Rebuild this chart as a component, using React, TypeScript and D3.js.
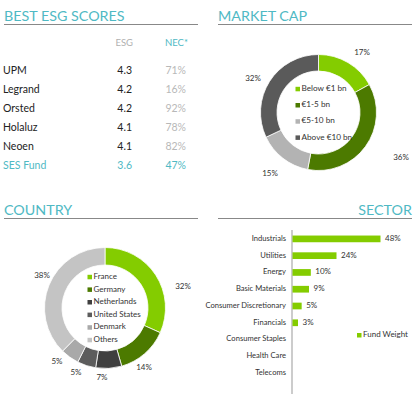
import React from "react";
import * as d3 from "d3";

const TEAL = "#4fb9c4";
const LGREEN = "#84cc00";
const DGREEN = "#4c7a00";
const FONT = "Lato, 'Open Sans', sans-serif";

const esgNames = ["UPM", "Legrand", "Orsted", "Holaluz", "Neoen", "SES Fund"];
const esgScores = ["4.3", "4.2", "4.2", "4.1", "4.1", "3.6"];
const necScores = ["71%", "16%", "92%", "78%", "82%", "47%"];

const capLabels = ["Below €1 bn", "€1-5 bn", "€5-10 bn", "Above €10 bn"];
const capValues = [17, 36, 15, 32];
const capColors = [LGREEN, DGREEN, "#b3b3b3", "#5a5a5a"];

const countryLabels = ["France", "Germany", "Netherlands", "United States", "Denmark", "Others"];
const countryValues = [32, 14, 7, 5, 5, 38];
const countryColors = [LGREEN, DGREEN, "#3f3f3f", "#5c5c5c", "#a9a9a9", "#c4c4c4"];

const sectorLabels = ["Industrials", "Utilities", "Energy", "Basic Materials", "Consumer Discretionary", "Financials", "Consumer Staples", "Health Care", "Telecoms"];
const sectorValues = [48, 24, 10, 9, 5, 3, 0, 0, 0];

function Donut({ cx, cy, r0, r1, values, colors, labelPos, legend, legendX, legendY, legendStep, legendSize }: any) {
  const pie = d3.pie<number>().sort(null).value((d) => d);
  const arc = d3.arc<d3.PieArcDatum<number>>().innerRadius(r0).outerRadius(r1);
  const arcs = pie(values);
  return (
    <g>
      <g transform={`translate(${cx},${cy})`}>
        {arcs.map((a, i) => (
          <path key={i} d={arc(a) as string} fill={colors[i]} stroke="#fff" strokeWidth={0.8} />
        ))}
      </g>
      {values.map((v: number, i: number) => (
        <text key={i} x={labelPos[i][0]} y={labelPos[i][1]} fontSize={8} textAnchor="middle" dominantBaseline="middle" fill="#333">
          {v}%
        </text>
      ))}
      {legend.map((l: string, i: number) => (
        <g key={l}>
          <rect x={legendX} y={legendY + i * legendStep - 2.2} width={4.5} height={4.5} fill={colors[i]} />
          <text x={legendX + 6} y={legendY + i * legendStep} fontSize={legendSize} dominantBaseline="middle" fill="#333">
            {l}
          </text>
        </g>
      ))}
    </g>
  );
}

export default function App() {
  const y = d3.scaleBand<string>().domain(sectorLabels).range([230.5, 381.5]).paddingInner(0.6).paddingOuter(0.3);
  const x = d3.scaleLinear().domain([0, 48]).range([292, 380]);
  return (
    <svg width={420} height={394} style={{ position: "absolute", left: 0, top: 0, fontFamily: FONT }}>
      <rect width={420} height={394} fill="#fff" />
      {/* Titles */}
      <text x={4} y={21} fontSize={14.3} fill={TEAL}>BEST ESG SCORES</text>
      <line x1={4} x2={198} y1={24.5} y2={24.5} stroke="#888" strokeWidth={1.2} />
      <text x={218} y={21} fontSize={14.3} fill={TEAL}>MARKET CAP</text>
      <line x1={218} x2={412} y1={24.5} y2={24.5} stroke="#888" strokeWidth={1.2} />
      <text x={4} y={215} fontSize={14.3} fill={TEAL}>COUNTRY</text>
      <line x1={4} x2={198} y1={218.5} y2={218.5} stroke="#888" strokeWidth={1.2} />
      <text x={412} y={215} fontSize={14.3} fill={TEAL} textAnchor="end">SECTOR</text>
      <line x1={218} x2={412} y1={218.5} y2={218.5} stroke="#888" strokeWidth={1.2} />

      {/* ESG table */}
      <text x={133} y={44} fontSize={9.5} fill="#b0b0b0" textAnchor="end" dominantBaseline="middle">ESG</text>
      <text x={188} y={44} fontSize={9.5} fill={TEAL} textAnchor="end" dominantBaseline="middle">NEC*</text>
      {esgNames.map((n, i) => {
        const last = i === esgNames.length - 1;
        const yy = 71 + i * 19;
        return (
          <g key={n}>
            <text x={3} y={yy} fontSize={10.5} fill={last ? TEAL : "#222"} dominantBaseline="middle">{n}</text>
            <text x={132} y={yy} fontSize={10.5} fill={last ? TEAL : "#222"} textAnchor="end" dominantBaseline="middle">{esgScores[i]}</text>
            <text x={186} y={yy} fontSize={10.5} fill={last ? TEAL : "#b8b8b8"} textAnchor="end" dominantBaseline="middle">{necScores[i]}</text>
          </g>
        );
      })}

      {/* Market cap donut */}
      <Donut
        cx={318.5} cy={112.5} r0={41.5} r1={58}
        values={capValues} colors={capColors}
        labelPos={[[362, 53], [401, 158], [270, 174], [253, 79]]}
        legend={capLabels} legendX={295.5} legendY={89} legendStep={16.2} legendSize={8.2}
      />

      {/* Country donut */}
      <Donut
        cx={105} cy={308} r0={43} r1={60.5}
        values={countryValues} colors={countryColors}
        labelPos={[[183, 287], [144, 368], [102, 378], [76, 373], [57, 362], [42, 276]]}
        legend={countryLabels} legendX={87.5} legendY={277} legendStep={12.6} legendSize={8}
      />

      {/* Sector bars */}
      <line x1={292} x2={292} y1={230} y2={394} stroke="#999" strokeWidth={1} />
      {sectorLabels.map((s, i) => {
        const by = y(s)!;
        const bh = y.bandwidth();
        const v = sectorValues[i];
        return (
          <g key={s}>
            <text x={286} y={by + bh / 2} fontSize={7.6} fill="#333" textAnchor="end" dominantBaseline="middle">{s}</text>
            {v > 0 && <rect x={x(0) + 0.5} y={by} width={x(v) - x(0)} height={bh} fill={LGREEN} />}
            {v > 0 && (
              <text x={x(v) + 5} y={by + bh / 2} fontSize={8} fill="#333" dominantBaseline="middle">{v}%</text>
            )}
          </g>
        );
      })}
      <rect x={357} y={333} width={4.5} height={4.5} fill={LGREEN} />
      <text x={363} y={335} fontSize={8} fill="#333" dominantBaseline="middle">Fund Weight</text>
    </svg>
  );
}
